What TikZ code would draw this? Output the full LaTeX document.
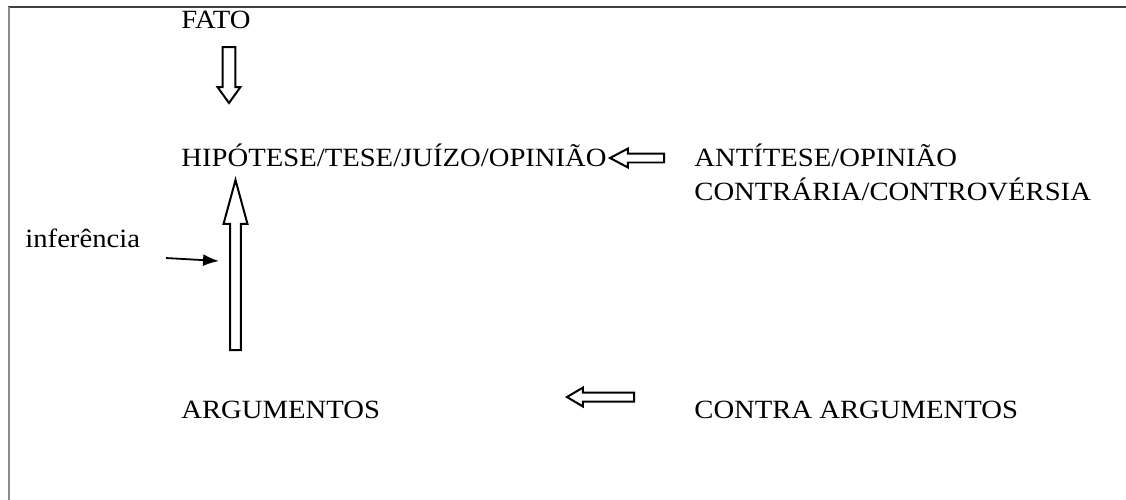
\documentclass[tikz,border=0pt]{standalone}
\usepackage{fontspec}
\setmainfont{Liberation Serif}[FakeStretch=1.09]
\usetikzlibrary{calc}
\usetikzlibrary{arrows.meta}
\pgfdeclarelayer{edgelayer}
\pgfdeclarelayer{nodelayer}
\pgfsetlayers{edgelayer,nodelayer,main}
\tikzstyle{caption}=[anchor=base west,inner sep=0pt,align=left,font=\fontsize{13.2}{17}\selectfont]
\tikzstyle{pointer}=[-{Latex[length=8pt,width=6pt]},draw=black,line width=0.9pt]
\tikzstyle{frame_line}=[line width=0.75pt]
\tikzset{hollow_arrow/.style n args={3}{draw=black,fill=white,line width=1pt,
	to path={let \p1=($(\tikztotarget)!#3!(\tikztostart)$) in
		($(\tikztostart)!#1!90:(\tikztotarget)$) -- ($(\p1)!#1!90:(\tikztotarget)$)
		-- ($(\p1)!#2!90:(\tikztotarget)$) -- (\tikztotarget)
		-- ($(\p1)!#2!-90:(\tikztotarget)$) -- ($(\p1)!#1!-90:(\tikztotarget)$)
		-- ($(\tikztostart)!#1!-90:(\tikztotarget)$) -- cycle}}}
\begin{document}
\begin{tikzpicture}
	\useasboundingbox (0, 0) rectangle (19.861, -8.819);
	\draw [style=frame_line, draw=black!75] (19.861, -0.123) -- (0.141, -0.123);
	\draw [style=frame_line, draw=black!45] (0.159, -0.123) -- (0.159, -8.819);
	\begin{pgfonlayer}{nodelayer}
		\node [style=caption] (0) at (3.193, -0.494) {FATO};
		\node [style=caption] (1) at (3.193, -2.928) {HIPÓTESE/TESE/JUÍZO/OPINIÃO};
		\node [style=caption] (2) at (12.241, -3.528) {ANTÍTESE/OPINIÃO\\CONTRÁRIA/CONTROVÉRSIA};
		\node [style=caption] (3) at (0.441, -4.374) {inferência};
		\node [style=caption] (4) at (3.193, -7.373) {ARGUMENTOS};
		\node [style=caption] (5) at (12.241, -7.373) {CONTRA ARGUMENTOS};
		\coordinate (6) at (4.039, -0.829);
		\coordinate (7) at (4.039, -1.817);
		\coordinate (8) at (4.154, -6.174);
		\coordinate (9) at (4.154, -3.175);
		\coordinate (10) at (11.712, -2.787);
		\coordinate (11) at (10.760, -2.787);
		\coordinate (12) at (11.183, -7.003);
		\coordinate (13) at (10.001, -7.003);
		\coordinate (14) at (2.928, -4.551);
		\coordinate (15) at (3.863, -4.604);
	\end{pgfonlayer}
	\begin{pgfonlayer}{edgelayer}
		\draw [hollow_arrow={3.25pt}{5.75pt}{8pt}] (6) to (7);
		\draw [hollow_arrow={2.75pt}{6pt}{22pt}] (8) to (9);
		\draw [hollow_arrow={2.25pt}{4.75pt}{9pt}] (10) to (11);
		\draw [hollow_arrow={2.25pt}{4.75pt}{8pt}] (12) to (13);
		\draw [style=pointer] (14) to (15);
	\end{pgfonlayer}
\end{tikzpicture}
\end{document}
